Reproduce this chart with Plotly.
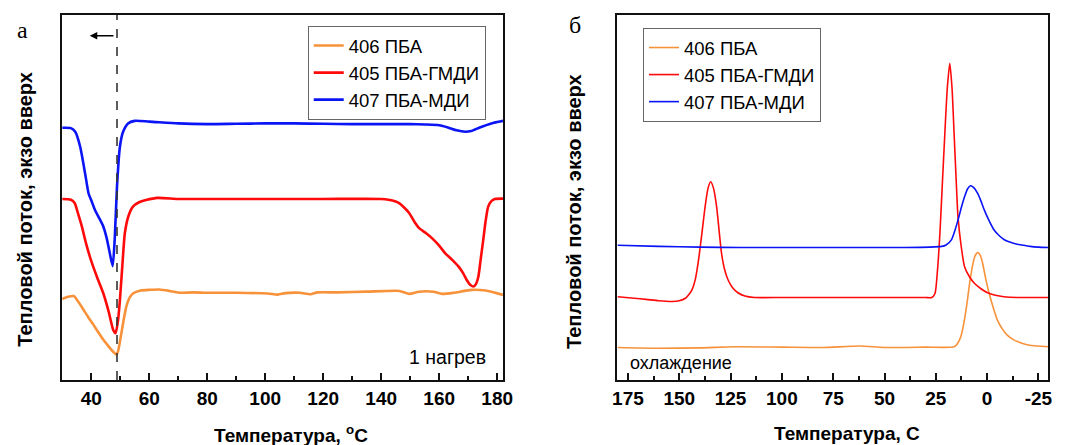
import plotly.graph_objects as go

# ---------------- data: panel a (1st heating) ----------------
heat_blue_x = [30, 33, 34.5, 36.2, 37.9, 39.1, 40, 41.3, 42.8, 44.2, 45.3, 46.2, 47.4, 48.1, 48.9, 49.9, 51, 52.7, 55, 60, 70, 80, 90, 100, 110, 120, 130, 140, 150, 155, 160, 163, 166, 169, 171, 174, 178, 182]
heat_blue_y = [69.1, 69.0, 68.0, 63.9, 56.6, 51.1, 49.3, 46.6, 44.3, 42, 39.0, 35.6, 31.2, 38.4, 53, 63.9, 68, 70.3, 71.0, 70.8, 70.3, 70.1, 70.2, 70.3, 70.3, 70.2, 70.1, 70.1, 70.1, 70.0, 69.8, 69.2, 68.4, 68.0, 68.2, 69.2, 70.3, 71.0]

heat_red_x = [30, 33, 34.3, 35.5, 36.8, 38.2, 39.9, 42, 44.2, 46, 47.6, 48.4, 49.2, 49.9, 50.8, 51.6, 52.8, 54.4, 56.5, 58.9, 62.9, 70, 80, 100, 120, 140, 142.5, 145, 146.3, 148, 149.7, 151.5, 153.1, 155.5, 157.6, 160, 162.1, 164.5, 166.7, 168.3, 169.5, 170.8, 171.8, 172.6, 173.5, 174.3, 175.2, 176, 176.9, 178, 179.2, 182]
heat_red_y = [49.6, 49.4, 48.5, 45.5, 42, 37.5, 32.9, 28.2, 23.7, 18.8, 13.7, 12.8, 16, 21.9, 32, 40.2, 44.8, 47.5, 48.7, 49.3, 49.9, 49.6, 49.6, 49.6, 49.6, 49.6, 49.4, 48.9, 48.4, 47.2, 45.7, 43.3, 41.6, 40.2, 38.8, 36.8, 34.7, 32.9, 31.05, 29.2, 27.4, 26.0, 25.6, 26.2, 28.3, 33, 38.4, 43.5, 47.5, 49.0, 49.6, 49.7]

heat_orange_x = [30, 32, 34, 35.5, 37.4, 39, 40.8, 42.5, 44.2, 46, 47.5, 48.7, 49.3, 50.4, 51.2, 52.1, 53.2, 54.4, 57, 60.1, 63.5, 67, 70.3, 75, 80, 90, 100.9, 104.3, 107, 112, 115.6, 118, 125, 135, 146.3, 149.7, 153, 158, 161, 165, 171.2, 176, 182]
heat_orange_y = [22.2, 22.8, 23.0, 21.5, 19.2, 17.2, 15.1, 13.0, 11.0, 9.2, 7.8, 7.0, 8.0, 12.8, 16.5, 20.1, 22.5, 23.7, 24.5, 24.7, 24.8, 24.4, 23.9, 24.0, 23.9, 23.9, 23.7, 23.4, 23.8, 23.9, 23.5, 24.0, 24.0, 24.2, 24.4, 23.6, 24.2, 24.2, 23.6, 23.9, 24.7, 24.5, 23.3]

# ---------------- data: panel б (cooling) ----------------
cool_blue_x = [180, 160, 140, 120, 100, 80, 60, 40, 28, 22.2, 20, 17.4, 15.8, 14.2, 12.6, 11, 9.5, 8.1, 6.5, 4.6, 3, 1.4, -1, -3.4, -5.8, -8.2, -11, -14.6, -18, -21, -25, -30]
cool_blue_y = [36.9, 36.6, 36.4, 36.3, 36.3, 36.3, 36.3, 36.3, 36.4, 36.6, 37.0, 38.4, 40.8, 43.8, 47.2, 50.2, 52.4, 53.2, 52.7, 51.1, 49.0, 46.6, 43.6, 41.1, 39.6, 38.5, 37.8, 37.2, 36.9, 36.6, 36.4, 36.3]

cool_red_x = [180, 172, 166.2, 160, 153.4, 150, 147, 145.5, 143.8, 142.2, 140.6, 139, 137.4, 136, 134.7, 133.3, 131.8, 130.6, 129.4, 128, 126.2, 124, 121.4, 118, 113.4, 100, 80, 60, 40, 30, 27, 25.4, 24.2, 23, 21.8, 20.6, 19.4, 18.2, 17.1, 16.1, 15.1, 14.2, 12.6, 11, 8.6, 6.2, 3, -0.2, -4, -8.2, -15, -30]
cool_red_y = [22.8, 22.4, 22.1, 21.7, 21.5, 21.7, 22.4, 23.3, 24.7, 27.5, 32.9, 40, 47.5, 52.5, 54.3, 52.5, 47.5, 41, 34.7, 30.5, 27.4, 25.3, 23.9, 23.0, 22.6, 22.6, 22.6, 22.6, 22.6, 22.6, 22.6, 23.7, 30, 40.2, 54, 67.6, 80, 86.8, 80, 67.6, 55, 44.7, 36.5, 31.05, 28.3, 26.5, 25.0, 23.9, 23.2, 22.8, 22.6, 22.6]

cool_orange_x = [180, 160, 140, 123, 100, 80, 62.2, 50, 30, 16, 14.4, 12.8, 11.2, 9.6, 8.4, 7.2, 5.9, 4.6, 3.4, 2.2, 0.6, -1, -3, -5, -7.4, -9.8, -13, -16.2, -20, -24.2, -30]
cool_orange_y = [8.9, 8.7, 8.8, 9.1, 9.0, 8.9, 9.3, 8.9, 9.0, 9.1, 10.0, 11.9, 16, 21.9, 27, 31.05, 34, 34.9, 34.2, 32, 27.5, 23.7, 19.8, 16.4, 14.0, 12.3, 11.0, 10.2, 9.6, 9.3, 9.1]

names = ["406 ПБА", "405 ПБА-ГМДИ", "407 ПБА-МДИ"]
colors = ["#F7923A", "#FF0A0A", "#0A14F5"]

left_ticks = [40, 60, 80, 100, 120, 140, 160, 180]
right_ticks = [175, 150, 125, 100, 75, 50, 25, 0, -25]
right_ticklabels = ["175", "150", "125", "100", "75", "50", "25", "0", "-25"]

FONT = "Liberation Sans, Arial, sans-serif"

fig = go.Figure()
left_sets = [(heat_orange_x, heat_orange_y), (heat_red_x, heat_red_y), (heat_blue_x, heat_blue_y)]
right_sets = [(cool_orange_x, cool_orange_y), (cool_red_x, cool_red_y), (cool_blue_x, cool_blue_y)]

for (xs, ys), n, c in zip(left_sets, names, colors):
    fig.add_trace(go.Scatter(x=xs, y=ys, mode="lines", name=n, xaxis="x", yaxis="y",
                             line=dict(color=c, width=2.6, shape="spline", smoothing=0.6),
                             legend="legend"))
for (xs, ys), n, c in zip(right_sets, names, colors):
    fig.add_trace(go.Scatter(x=xs, y=ys, mode="lines", name=n, xaxis="x2", yaxis="y2",
                             line=dict(color=c, width=1.6, shape="spline", smoothing=0.6),
                             legend="legend2"))

axis_common = dict(showline=True, linecolor="#111", linewidth=1.8, mirror=True,
                   showgrid=False, zeroline=False)
tickfont = dict(family=FONT, size=19, color="black", weight="bold")

fig.update_layout(
    width=1079, height=445,
    margin=dict(l=0, r=0, t=0, b=0),
    paper_bgcolor="white", plot_bgcolor="white",
    xaxis=dict(domain=[58/1079, 505/1079], range=[30, 182], anchor="y",
               tickvals=left_ticks, ticks="inside", ticklen=7, tickwidth=1.5, tickcolor="#111",
               minor=dict(dtick=10, tick0=0, ticks="inside", ticklen=4, tickwidth=1.5, tickcolor="#111"),
               tickfont=tickfont, **axis_common),
    yaxis=dict(domain=[1-380/445, 1-15/445], range=[0, 100], anchor="x",
               showticklabels=False, ticks="", **axis_common),
    xaxis2=dict(domain=[620.7/1079, 1058/1079], range=[180.3, -29.8], anchor="y2",
                tickvals=right_ticks, ticktext=right_ticklabels, ticks="inside", ticklen=7, tickwidth=1.5, tickcolor="#111",
                minor=dict(dtick=12.5, tick0=0, ticks="inside", ticklen=4, tickwidth=1.5, tickcolor="#111"),
                tickfont=tickfont, **axis_common),
    yaxis2=dict(domain=[1-380/445, 1-15/445], range=[0, 100], anchor="x2",
                showticklabels=False, ticks="", **axis_common),
    legend=dict(x=307/1079, y=1-26/445, xanchor="left", yanchor="top",
                bordercolor="#666", borderwidth=1, bgcolor="white",
                font=dict(family=FONT, size=18.5, color="black"), tracegroupgap=0),
    legend2=dict(x=647/1079, y=1-28/445, xanchor="left", yanchor="top",
                 bordercolor="#666", borderwidth=1, bgcolor="white",
                 font=dict(family=FONT, size=18.5, color="black"), tracegroupgap=0),
    showlegend=True,
)

# dashed vertical marker and arrow
fig.add_shape(type="line", xref="x", yref="y", x0=48.9, x1=48.9, y0=0, y1=100,
              line=dict(color="#333", width=1.6, dash="dash"))
fig.add_annotation(xref="x", yref="y", x=39.5, y=94.3, axref="x", ayref="y", ax=48.2, ay=94.3,
                   showarrow=True, arrowhead=2, arrowsize=1, arrowwidth=1.5, arrowcolor="black", text="")

ann_font_bold = dict(family=FONT, size=19, color="black", weight="bold")
ann_ytitle = dict(family=FONT, size=20, color="black", weight="bold")
fig.add_annotation(xref="paper", yref="paper", x=20/1079, y=1-209/445, text="Тепловой поток, экзо вверх",
                   xanchor="center", yanchor="middle", textangle=-90, showarrow=False, font=ann_ytitle)
fig.add_annotation(xref="paper", yref="paper", x=577/1079, y=1-211/445, text="Тепловой поток, экзо вверх",
                   xanchor="center", yanchor="middle", textangle=-90, showarrow=False, font=ann_ytitle)
fig.add_annotation(xref="paper", yref="paper", x=290/1079, y=1-434/445, text="Температура, <sup>o</sup>C",
                   xanchor="center", yanchor="middle", showarrow=False, font=ann_font_bold)
fig.add_annotation(xref="paper", yref="paper", x=854/1079, y=1-433/445, text="Температура, С",
                   xanchor="center", yanchor="middle", showarrow=False, font=ann_font_bold)
fig.add_annotation(xref="x", yref="y", x=177, y=6.4, xanchor="right", yanchor="middle", text="1 нагрев",
                   showarrow=False, font=dict(family=FONT, size=19.5, color="black"))
fig.add_annotation(xref="x2", yref="y2", x=175, y=4.6, xanchor="left", yanchor="middle", text="охлаждение",
                   showarrow=False, font=dict(family=FONT, size=18, color="black"))
fig.add_annotation(xref="paper", yref="paper", x=18/1079, y=1-30/445, text="а",
                   xanchor="center", yanchor="middle", showarrow=False,
                   font=dict(family="Liberation Serif, Times New Roman, serif", size=24, color="black"))
fig.add_annotation(xref="paper", yref="paper", x=578/1079, y=1-25/445, text="б",
                   xanchor="center", yanchor="middle", showarrow=False,
                   font=dict(family="Liberation Serif, Times New Roman, serif", size=24, color="black"))

fig.write_html("out.html")
